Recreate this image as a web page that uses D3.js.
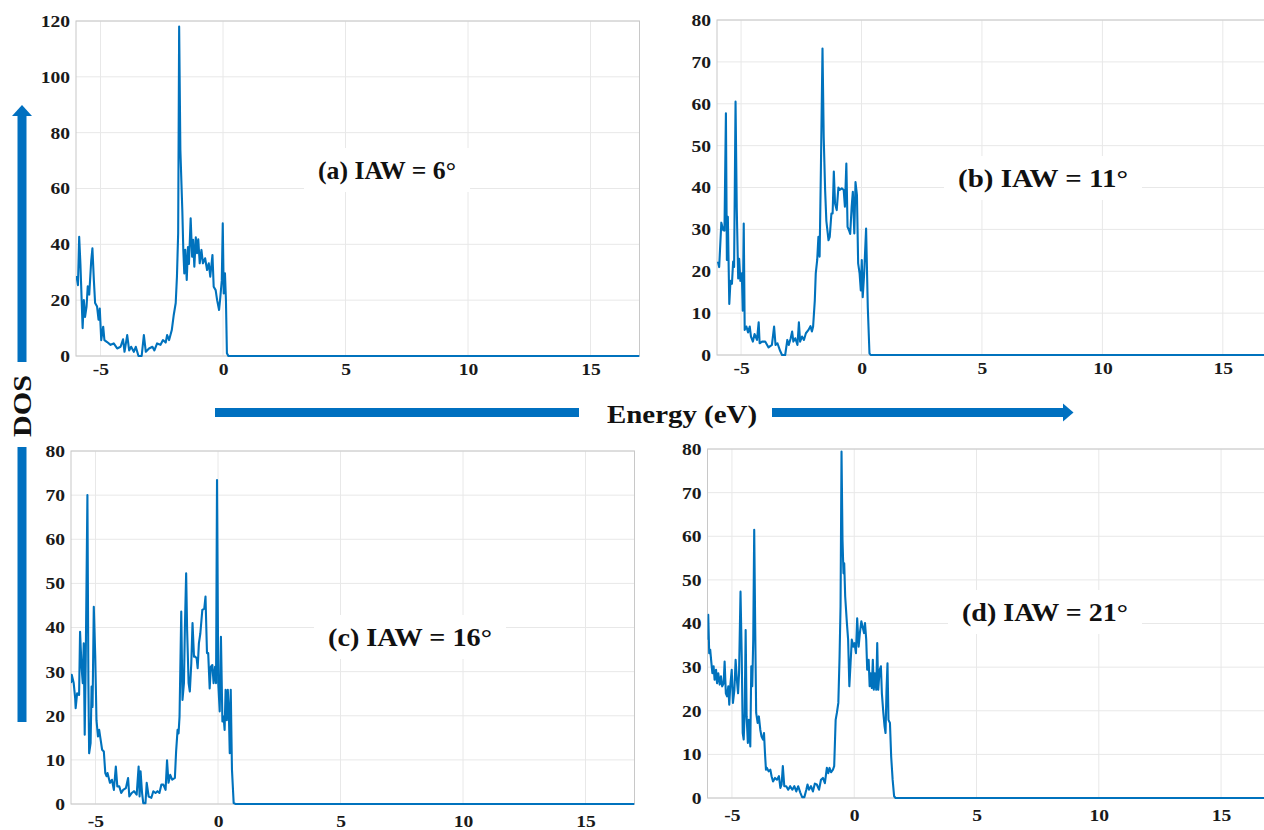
<!DOCTYPE html>
<html>
<head>
<meta charset="utf-8">
<script src="https://cdn.jsdelivr.net/npm/d3@7"></script>
<style>
  body { margin: 0; background: #fff; }
  svg { display: block; }
</style>
</head>
<body>
<svg id="chart" width="1264" height="830"></svg>
<script>
// ---- Density of states vs energy for four IAW angles ----
const energyA = [-5.98,-5.92,-5.87,-5.82,-5.73,-5.68,-5.63,-5.57,-5.52,-5.46,-5.38,-5.33,-5.27,-5.22,-5.14,-5.08,-5.03,-4.97,-4.89,-4.84,-4.73,-4.59,-4.46,-4.32,-4.18,-4.08,-4.02,-3.91,-3.83,-3.75,-3.64,-3.56,-3.45,-3.32,-3.23,-3.15,-3.02,-2.88,-2.80,-2.69,-2.55,-2.45,-2.34,-2.28,-2.20,-2.09,-2.01,-1.93,-1.88,-1.83,-1.79,-1.74,-1.66,-1.62,-1.58,-1.54,-1.48,-1.43,-1.39,-1.32,-1.26,-1.22,-1.17,-1.11,-1.06,-1.01,-0.95,-0.88,-0.82,-0.73,-0.65,-0.58,-0.52,-0.43,-0.38,-0.30,-0.24,-0.16,-0.11,-0.05,-0.01,0.03,0.08,0.12,0.16,0.22,17];
const dosA    = [28.7,25.4,42.7,33,10,20,14,17.7,25,22,34,38.6,27,19,17.7,13,17,5.7,10.5,5.7,5,4,4.5,2.7,3.3,6,1.5,7.5,2,3.3,1.5,3.3,0,0,7.5,1.5,2.7,3.3,2,4.5,4,5.7,4.8,7.5,5.7,9.3,14.7,19,28.4,44,118,73.8,52,38,29.6,38,27.2,39,33,49.3,35.6,41.6,32,42.5,36.8,41.8,33.2,38,33.2,35,30.8,33.2,28.4,36.2,24.8,23.6,20,16.5,21,27,47.5,22.4,29.6,20,1,0,0];

const energyB = [-5.96,-5.91,-5.82,-5.74,-5.69,-5.63,-5.59,-5.55,-5.49,-5.44,-5.38,-5.33,-5.29,-5.23,-5.18,-5.12,-5.08,-5.03,-4.97,-4.93,-4.89,-4.85,-4.78,-4.71,-4.64,-4.59,-4.51,-4.44,-4.34,-4.27,-4.23,-4.13,-4.00,-3.86,-3.72,-3.63,-3.57,-3.49,-3.38,-3.30,-3.17,-3.08,-3.02,-2.94,-2.88,-2.83,-2.75,-2.66,-2.60,-2.55,-2.47,-2.39,-2.31,-2.20,-2.12,-2.06,-2.01,-1.94,-1.90,-1.84,-1.79,-1.74,-1.69,-1.62,-1.57,-1.51,-1.46,-1.37,-1.32,-1.25,-1.20,-1.15,-1.10,-1.03,-0.96,-0.91,-0.82,-0.74,-0.69,-0.63,-0.58,-0.52,-0.47,-0.41,-0.36,-0.30,-0.25,-0.19,-0.14,-0.08,-0.03,0.01,0.05,0.11,0.19,0.26,0.33,0.38,17];
const dosB    = [22.3,21,31.6,29.8,29.7,57.7,22.7,33,12.2,17.7,17,22.3,21,60.5,35,18.3,23,17.7,19.5,10.6,31.4,6,6.8,5.4,6.8,4.4,3.2,5,3.6,7.8,2.8,3.2,3.2,1.8,2.4,6.8,2.4,2.8,1,0,0,3.6,2.4,4,5.6,3.2,4,2.4,7.8,3.2,4.4,3.6,5.2,6,6.9,5.6,6.8,13,19.5,22.7,28.2,23.5,43,73.2,52,39.2,32,27.4,28.2,33.8,33.8,43.8,36.2,34.6,40,39.4,39.8,39.4,35.4,45.7,30.6,29.8,28.9,35.4,39,29,41.3,38.2,21.9,19.5,15.4,22.7,13.8,19.5,30.2,11.4,0.4,0,0];

const energyC = [-6.00,-5.97,-5.89,-5.83,-5.81,-5.75,-5.67,-5.63,-5.57,-5.52,-5.48,-5.44,-5.40,-5.33,-5.29,-5.26,-5.20,-5.16,-5.12,-5.07,-5.01,-4.96,-4.90,-4.85,-4.78,-4.73,-4.66,-4.60,-4.55,-4.51,-4.41,-4.33,-4.25,-4.17,-4.11,-4.03,-3.95,-3.87,-3.76,-3.67,-3.62,-3.52,-3.43,-3.32,-3.24,-3.20,-3.16,-3.10,-3.05,-2.96,-2.91,-2.83,-2.72,-2.64,-2.55,-2.47,-2.39,-2.31,-2.23,-2.14,-2.08,-2.02,-1.95,-1.87,-1.76,-1.71,-1.65,-1.61,-1.57,-1.50,-1.45,-1.39,-1.35,-1.30,-1.26,-1.20,-1.15,-1.09,-1.04,-0.98,-0.93,-0.87,-0.83,-0.78,-0.72,-0.64,-0.56,-0.51,-0.45,-0.40,-0.34,-0.29,-0.23,-0.18,-0.12,-0.08,-0.04,0.01,0.07,0.12,0.18,0.23,0.27,0.31,0.36,0.40,0.44,0.48,0.52,0.57,0.64,0.72,17];
const dosC    = [27.4,29.3,27.4,24,21.7,25.1,24.7,39,31.1,27.4,36.4,15.7,31.9,70,27.4,11.5,13.8,26.6,22,44.7,33.4,19,15.3,16.8,14.2,12.3,11.9,7,6.3,7,4.8,5.5,3.2,8.5,4,4,2.5,3.2,3.6,5.9,1.7,2.5,2.9,2.1,8.5,1.7,7.4,2.5,0.2,0.2,4.8,1.7,1.4,2.9,2.5,2.9,2.5,4.4,4.4,3.2,9.9,4.8,6.6,5.5,5.9,11.9,16.8,16,19.8,43.6,23.6,27.4,40.2,52.3,39.4,27.4,25.5,31.9,41,33.4,33.4,33,30.8,36.4,38.7,44,44.3,47,34.2,34.2,26.2,31.1,31.5,27.4,31.1,27.4,73.4,27.4,21,37.9,18.7,19.8,16.8,25.9,19,25.9,21.3,11.5,25.9,7.8,0.2,0,0];

const energyD = [-6.00,-5.97,-5.93,-5.89,-5.84,-5.80,-5.75,-5.71,-5.65,-5.61,-5.56,-5.50,-5.45,-5.40,-5.34,-5.30,-5.25,-5.20,-5.15,-5.11,-5.07,-5.01,-4.96,-4.90,-4.85,-4.80,-4.75,-4.71,-4.65,-4.60,-4.56,-4.52,-4.48,-4.44,-4.40,-4.35,-4.31,-4.25,-4.21,-4.17,-4.13,-4.09,-4.05,-4.01,-3.95,-3.90,-3.84,-3.79,-3.73,-3.69,-3.65,-3.61,-3.57,-3.50,-3.43,-3.38,-3.32,-3.24,-3.16,-3.08,-3.02,-2.97,-2.92,-2.86,-2.78,-2.70,-2.62,-2.53,-2.45,-2.37,-2.29,-2.21,-2.13,-2.04,-1.96,-1.91,-1.85,-1.77,-1.69,-1.61,-1.53,-1.44,-1.36,-1.28,-1.20,-1.12,-1.06,-1.01,-0.95,-0.87,-0.82,-0.76,-0.71,-0.65,-0.60,-0.56,-0.52,-0.48,-0.44,-0.41,-0.37,-0.30,-0.25,-0.20,-0.15,-0.10,-0.04,0.01,0.07,0.12,0.18,0.23,0.29,0.34,0.40,0.44,0.49,0.53,0.59,0.63,0.67,0.72,0.76,0.80,0.84,0.90,0.94,0.98,1.04,1.09,1.13,1.19,1.24,1.28,1.32,1.36,1.40,1.46,1.51,1.57,1.63,1.69,17];
const dosD    = [36.3,42,33.2,34,30.9,28.6,30.2,27.1,29.4,26.3,28.6,26,27.9,25.6,26.3,31.3,24,23.3,25.6,21.4,25.6,29.4,21.8,24.8,31.7,27.1,24,28.6,47.3,32.4,14.9,13.4,19.5,38.5,18.7,12.6,17.9,11.8,30.2,25.6,36.3,61.5,39.3,19.5,17.2,18.7,15.6,14.1,13.4,14.9,10.3,6.5,6.9,6.1,6.5,5,3.8,4.6,4.2,5,2.3,3.1,7.3,2.7,2.7,1.9,2.7,1.9,2.7,1.5,2.7,1.3,0.2,0.2,1.9,3.1,1.9,2.7,1.5,3.3,3.1,1.9,4.2,4.6,3.4,6.9,5.7,6.9,5.9,6.5,7.3,17.9,19.5,21.8,32.4,43.9,79.4,59.2,51.5,53.8,46.2,40.1,36.3,25.6,30.9,36.3,34.7,35.5,33.2,41.2,34.7,37.8,40.5,39.3,37.8,40.1,36.3,29.4,31.7,25.6,28.6,25.2,31.7,24.8,28.6,24.8,35.5,24.8,29.4,30.2,24,19.5,16.4,14.9,24.8,30.9,17.9,17.2,9.5,4.2,0.4,0,0];

const energyDomain = [-6, 17];
const xTicks = [-5, 0, 5, 10, 15];
const yTicksA = [0, 20, 40, 60, 80, 100, 120];
const yTicksBCD = [0, 10, 20, 30, 40, 50, 60, 70, 80];
const panelTitles = ["(a) IAW = 6°", "(b) IAW = 11°", "(c) IAW = 16°", "(d) IAW = 21°"];
const xAxisTitle = "Energy (eV)";
const yAxisTitle = "DOS";

// ---- layout of the four axes boxes ----
const panels = [
  { e: energyA, d: dosA, yMax: 120, yTicks: yTicksA,   box: { l: 76,    t: 21,  r: 639.5, b: 356 }, title: { x: 387,  y: 170, w: 138 } },
  { e: energyB, d: dosB, yMax: 80,  yTicks: yTicksBCD, box: { l: 717,   t: 20,  r: 1271,  b: 355 }, title: { x: 1043, y: 178, w: 170 } },
  { e: energyC, d: dosC, yMax: 80,  yTicks: yTicksBCD, box: { l: 71,    t: 451, r: 634.5, b: 804 }, title: { x: 410,  y: 637, w: 164 } },
  { e: energyD, d: dosD, yMax: 80,  yTicks: yTicksBCD, box: { l: 707.5, t: 449, r: 1270,  b: 798 }, title: { x: 1045, y: 612, w: 166 } }
];

const svg = d3.select("#chart");
const FONT = "Liberation Serif";
const LINE = "#0072BD";
const ARROW = "#0070C0";
const STRETCH = 1.15;

function widen(sel, factor) {
  sel.each(function () {
    const len = this.getComputedTextLength();
    d3.select(this).attr("textLength", len * factor).attr("lengthAdjust", "spacingAndGlyphs");
  });
}

panels.forEach((p, i) => {
  const { l, t, r, b } = p.box;
  const x = d3.scaleLinear().domain(energyDomain).range([l, r]);
  const y = d3.scaleLinear().domain([0, p.yMax]).range([b, t]);
  const g = svg.append("g");

  // grid
  g.append("g").selectAll("line").data(xTicks).join("line")
    .attr("x1", d => x(d)).attr("x2", d => x(d)).attr("y1", t).attr("y2", b)
    .attr("stroke", "#e8e8e8").attr("stroke-width", 1);
  g.append("g").selectAll("line").data(p.yTicks).join("line")
    .attr("x1", l).attr("x2", r).attr("y1", d => y(d)).attr("y2", d => y(d))
    .attr("stroke", "#e8e8e8").attr("stroke-width", 1);

  // frame
  g.append("rect").attr("x", l).attr("y", t).attr("width", r - l).attr("height", b - t)
    .attr("fill", "none").attr("stroke", "#c8c8c8").attr("stroke-width", 1);

  // axes
  const ax = g.append("g").attr("transform", `translate(0,${b})`)
    .call(d3.axisBottom(x).tickValues(xTicks).tickFormat(d => String(d)).tickSize(0).tickPadding(i < 2 ? 7 : 11));
  const ay = g.append("g").attr("transform", `translate(${l},0)`)
    .call(d3.axisLeft(y).tickValues(p.yTicks).tickFormat(d => String(d)).tickSize(0).tickPadding(6));
  [ax, ay].forEach(a => {
    a.select(".domain").remove();
    a.selectAll("text").attr("font-family", FONT).attr("font-weight", "bold")
      .attr("font-size", 17).attr("fill", "#1a1a1a");
  });
  widen(ax.selectAll("text"), STRETCH);
  widen(ay.selectAll("text"), STRETCH);

  // curve
  const clipId = "clip" + i;
  svg.append("clipPath").attr("id", clipId).append("rect")
    .attr("x", l).attr("y", t - 2).attr("width", r - l).attr("height", b - t + 4);
  const pts = p.e.map((e, k) => [e, p.d[k]]);
  g.append("path").datum(pts)
    .attr("clip-path", `url(#${clipId})`)
    .attr("fill", "none").attr("stroke", LINE).attr("stroke-width", 2.1)
    .attr("stroke-linejoin", "round")
    .attr("d", d3.line().x(d => x(d[0])).y(d => y(d[1])));

  // panel title on a white plate
  const tg = g.append("g");
  tg.append("rect").attr("fill", "#fff")
    .attr("x", p.title.x - p.title.w / 2 - 14).attr("y", p.title.y - 22)
    .attr("width", p.title.w + 28).attr("height", 44);
  tg.append("text").attr("x", p.title.x).attr("y", p.title.y)
    .attr("text-anchor", "middle").attr("dominant-baseline", "central")
    .attr("font-family", FONT).attr("font-weight", "bold").attr("font-size", 25)
    .attr("fill", "#111").text(panelTitles[i])
    .attr("textLength", p.title.w).attr("lengthAdjust", "spacingAndGlyphs");
});

// ---- big axis arrows ----
const arrows = svg.append("g").attr("fill", ARROW);
// vertical DOS arrow (two shafts split by the label)
arrows.append("rect").attr("x", 17.5).attr("y", 114).attr("width", 9).attr("height", 248);
arrows.append("path").attr("d", "M22,105 L32,116 L12,116 Z");
arrows.append("rect").attr("x", 17.5).attr("y", 447).attr("width", 9).attr("height", 275);
svg.append("text").attr("transform", "translate(22,406) rotate(-90)")
  .attr("text-anchor", "middle").attr("dominant-baseline", "central")
  .attr("font-family", FONT).attr("font-weight", "bold").attr("font-size", 26)
  .attr("fill", "#111").text(yAxisTitle)
  .attr("textLength", 62).attr("lengthAdjust", "spacingAndGlyphs");

// horizontal energy arrow
arrows.append("rect").attr("x", 215).attr("y", 408).attr("width", 364).attr("height", 9);
arrows.append("rect").attr("x", 772).attr("y", 408).attr("width", 293).attr("height", 9);
arrows.append("path").attr("d", "M1063,403.5 L1073.5,412.5 L1063,421.5 Z");
svg.append("text").attr("x", 682).attr("y", 414)
  .attr("text-anchor", "middle").attr("dominant-baseline", "central")
  .attr("font-family", FONT).attr("font-weight", "bold").attr("font-size", 26)
  .attr("fill", "#111").text(xAxisTitle)
  .attr("textLength", 150).attr("lengthAdjust", "spacingAndGlyphs");
</script>
</body>
</html>
